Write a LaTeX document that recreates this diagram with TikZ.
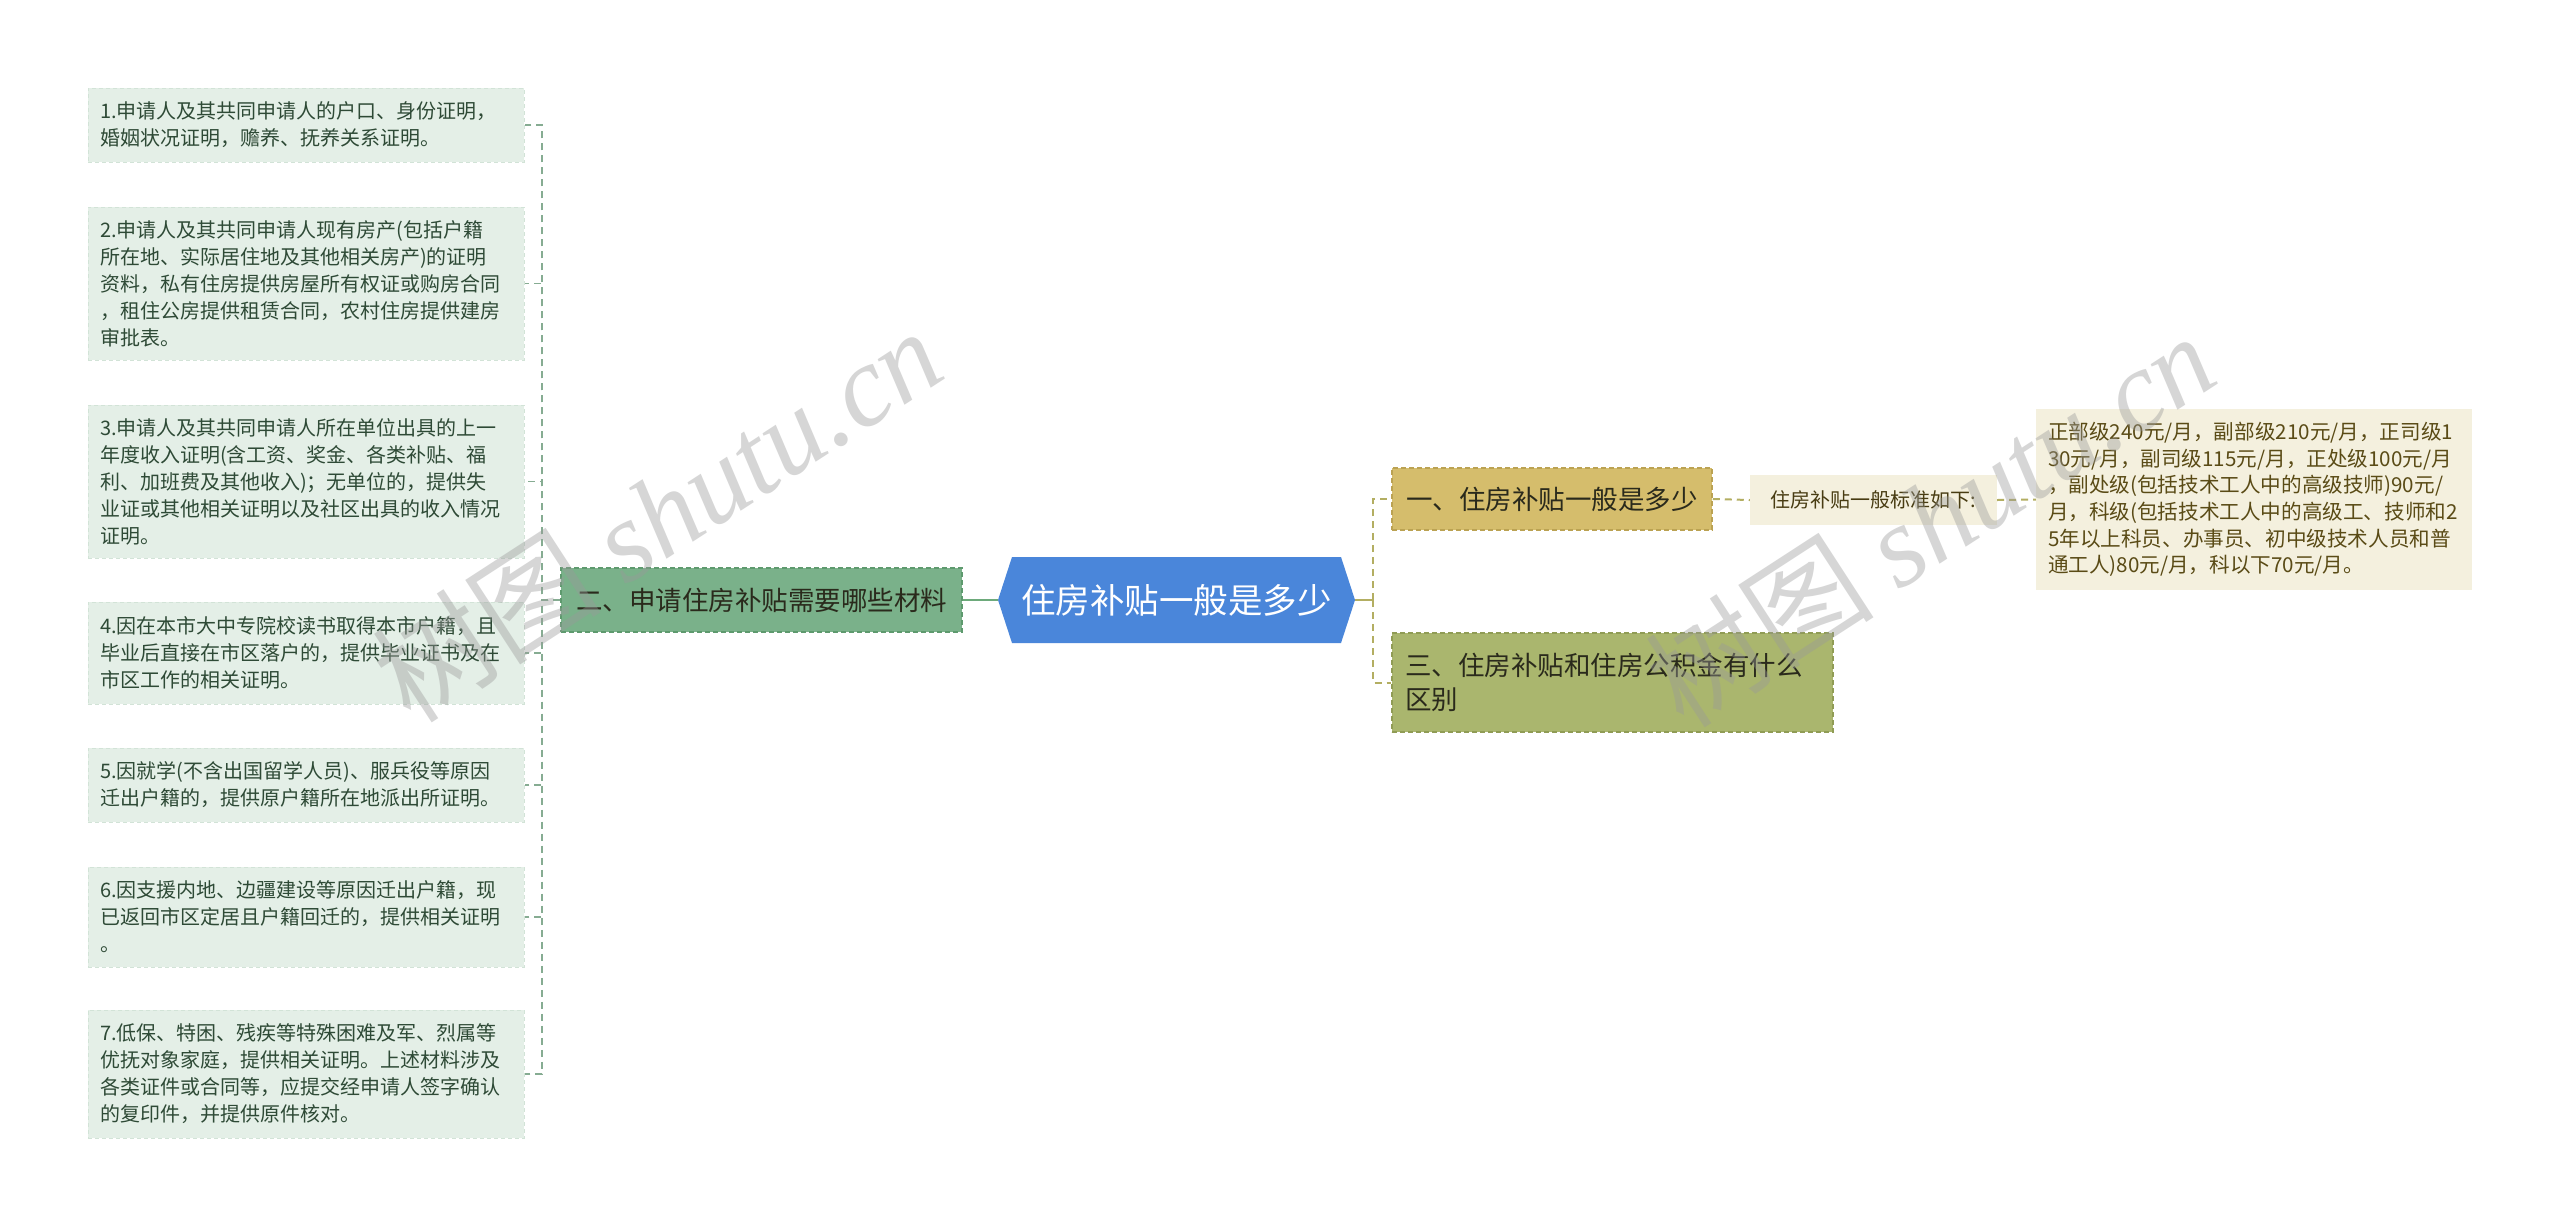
\documentclass[tikz,border=0pt]{standalone}
\usepackage{fontspec}
\setmainfont{Noto Sans CJK SC}
\newfontfamily\wmserif{Liberation Serif}
\newfontfamily\wmcjk{Noto Sans CJK SC}
\usetikzlibrary{calc}
\definecolor{leafbg}{HTML}{E4EFE7}
\definecolor{leafbd}{HTML}{D2E3D7}
\definecolor{leaftx}{HTML}{2E4A36}
\definecolor{lline}{HTML}{86AC92}
\definecolor{gline}{HTML}{6DAA7B}
\definecolor{oline}{HTML}{B3AE62}
\definecolor{cblue}{HTML}{4A86DA}
\definecolor{twobg}{HTML}{7AB18A}
\definecolor{twobd}{HTML}{5E9A6E}
\definecolor{onebg}{HTML}{D5BD6C}
\definecolor{onebd}{HTML}{BBA252}
\definecolor{threebg}{HTML}{AAB66E}
\definecolor{threebd}{HTML}{909C55}
\definecolor{paleb}{HTML}{F4F0DE}
\definecolor{paletx}{HTML}{5A4B16}
\definecolor{darktx}{HTML}{2A2A1C}
\tikzset{
  leaf/.style={fill=leafbg, draw=leafbd, dash pattern=on 4pt off 3pt, line width=1pt,
    text=leaftx, font=\fontsize{20}{27}\selectfont, text width=412pt, align=left,
    inner xsep=12pt, inner ysep=0pt},
  branch/.style={dash pattern=on 5pt off 3pt, line width=1.5pt, inner xsep=13pt, inner ysep=0pt,
    font=\fontsize{26.5}{34}\selectfont},
  pale/.style={fill=paleb, draw=none, inner ysep=0pt},
  lconn/.style={draw=lline, line width=1.6pt, dash pattern=on 7pt off 5pt},
  rconn/.style={draw=oline, line width=2pt, dash pattern=on 7pt off 5pt},
  wm/.style={text=black!40, opacity=0.4, rotate=33, inner sep=0pt},
}
\begin{document}
\begin{tikzpicture}[x=1pt,y=-1pt]
\fill[white] (0,0) rectangle (2560,1227);
\useasboundingbox (0,0) rectangle (2560,1227);

% central
\node (c) [minimum width=357pt, minimum height=86pt, inner sep=0pt, text=white,
  font=\fontsize{34.5}{40}\selectfont,
  path picture={\fill[cblue] (path picture bounding box.west)
    -- ([xshift=14pt]path picture bounding box.north west)
    -- ([xshift=-14pt]path picture bounding box.north east)
    -- (path picture bounding box.east)
    -- ([xshift=-14pt]path picture bounding box.south east)
    -- ([xshift=14pt]path picture bounding box.south west) -- cycle;}]
  at (1176.5,600) {住房补贴一般是多少};

% branch two (left)
\node (n2) [branch, fill=twobg, draw=twobd, text=darktx, minimum width=401pt, minimum height=64pt]
  at (761.5,600) {二、申请住房补贴需要哪些材料};

% left leaves
\node (b1) [leaf, minimum height=74pt] at (306,125) {1.申请人及其共同申请人的户口、身份证明，\\婚姻状况证明，赡养、抚养关系证明。};
\node (b2) [leaf, minimum height=153pt] at (306,283.5) {2.申请人及其共同申请人现有房产(包括户籍\\所在地、实际居住地及其他相关房产)的证明\\资料，私有住房提供房屋所有权证或购房合同\\，租住公房提供租赁合同，农村住房提供建房\\审批表。};
\node (b3) [leaf, minimum height=153pt] at (306,481.5) {3.申请人及其共同申请人所在单位出具的上一\\年度收入证明(含工资、奖金、各类补贴、福\\利、加班费及其他收入)；无单位的，提供失\\业证或其他相关证明以及社区出具的收入情况\\证明。};
\node (b4) [leaf, minimum height=102pt] at (306,653) {4.因在本市大中专院校读书取得本市户籍，且\\毕业后直接在市区落户的，提供毕业证书及在\\市区工作的相关证明。};
\node (b5) [leaf, minimum height=74pt] at (306,785) {5.因就学(不含出国留学人员)、服兵役等原因\\迁出户籍的，提供原户籍所在地派出所证明。};
\node (b6) [leaf, minimum height=100pt] at (306,917) {6.因支援内地、边疆建设等原因迁出户籍，现\\已返回市区定居且户籍回迁的，提供相关证明\\。};
\node (b7) [leaf, minimum height=128pt] at (306,1074) {7.低保、特困、残疾等特殊困难及军、烈属等\\优抚对象家庭，提供相关证明。上述材料涉及\\各类证件或合同等，应提交经申请人签字确认\\的复印件，并提供原件核对。};

% right branches
\node (n1) [branch, fill=onebg, draw=onebd, text=darktx, minimum width=320pt, minimum height=62pt]
  at (1552,499) {一、住房补贴一般是多少};
\node (n3) [branch, fill=threebg, draw=threebd, text=darktx, text width=415pt, align=left, minimum height=99pt]
  at (1612.5,682.5) {三、住房补贴和住房公积金有什么\\区别};

\node (s1) [pale, text=paletx!80!black, font=\fontsize{20}{26}\selectfont, minimum width=247pt, minimum height=50pt, inner xsep=0pt]
  at (1873.5,500) {住房补贴一般标准如下:};
\node (s2) [pale, text=paletx, font=\fontsize{20.6}{26.7}\selectfont, text width=412pt, align=left, inner xsep=12pt, minimum height=181pt]
  at (2254,499.5) {正部级240元/月，副部级210元/月，正司级1\\30元/月，副司级115元/月，正处级100元/月\\，副处级(包括技术工人中的高级技师)90元/\\月，科级(包括技术工人中的高级工、技师和2\\5年以上科员、办事员、初中级技术人员和普\\通工人)80元/月，科以下70元/月。};

% connectors
\draw[gline, line width=2pt] (c.west) -- (n2.east);
\coordinate (lj) at (542,600);
\foreach \b in {b1,b2,b3,b4,b5,b6,b7} {
  \draw[lconn] (n2.west) -- (lj) |- (\b.east);
}
\coordinate (rj) at (1373,600);
\draw[oline, line width=2.4pt] (c.east) -- (rj);
\draw[rconn] (rj) |- (n1.west);
\draw[rconn] (rj) |- (n3.west);
\draw[rconn] (n1.east) -- (s1.west);
\draw[rconn] (s1.east) -- (s2.west);

% watermarks
\node (w1) [wm, font=\fontsize{115}{115}\selectfont] at (657,514) {\wmcjk 树图 \wmserif\itshape shutu.cn};
\node (w2) [wm, font=\fontsize{115}{115}\selectfont] at (1930,519) {\wmcjk 树图 \wmserif\itshape shutu.cn};
\end{tikzpicture}
\end{document}
